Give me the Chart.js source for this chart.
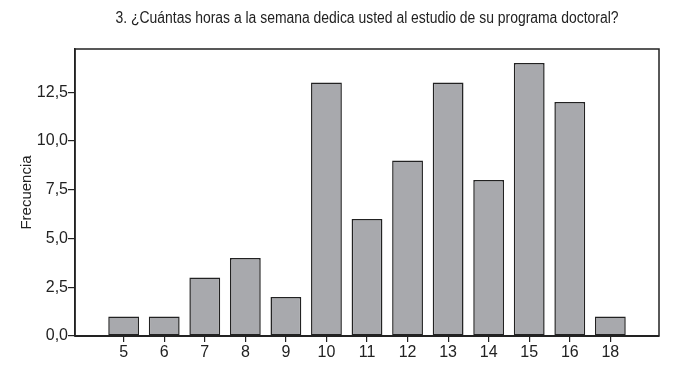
<!DOCTYPE html>
<html>
<head>
<meta charset="utf-8">
<script src="https://cdn.jsdelivr.net/npm/chart.js@4"></script>
<style>
  html, body { margin: 0; padding: 0; background: #fff; }
  #wrap { width: 697px; height: 370px; }
</style>
</head>
<body>
<div id="wrap"><canvas id="myChart"></canvas></div>
<script>
const titleText = '3. ¿Cuántas horas a la semana dedica usted al estudio de su programa doctoral?';
const horas = ['5', '6', '7', '8', '9', '10', '11', '12', '13', '14', '15', '16', '18'];
const frecuencia = [1, 1, 3, 4, 2, 13, 6, 9, 13, 8, 14, 12, 1];
const yTicks = [0, 2.5, 5, 7.5, 10, 12.5];

const FONT = "'Liberation Sans', Arial, sans-serif";

// title (squeezed a bit, the original uses a narrow face) + box around the plot
const frame = {
    id: 'frame',
    afterDraw(chart) {
        const c = chart.ctx;
        const a = chart.chartArea;
        c.save();
        c.strokeStyle = '#222';
        c.lineWidth = 1.5;
        c.strokeRect(a.left, a.top, a.right - a.left, a.bottom - a.top);
        c.lineWidth = 2;
        c.beginPath();
        c.moveTo(a.left, a.bottom);
        c.lineTo(a.right, a.bottom);
        c.stroke();
        c.fillStyle = '#222';
        c.font = '16px ' + FONT;
        c.textAlign = 'center';
        c.textBaseline = 'middle';
        c.translate((a.left + a.right) / 2, 19);
        c.scale(0.87, 1);
        c.fillText(titleText, 0, 0);
        c.restore();
    }
};

const ctx = document.getElementById('myChart').getContext('2d');
const myChart = new Chart(ctx, {
    type: 'bar',
    data: {
        datasets: [{
            label: 'Frecuencia',
            data: frecuencia.map((v, i) => ({x: i, y: v})),
            backgroundColor: '#a8a9ad',
            borderColor: '#222',
            borderWidth: 1.5,
            borderSkipped: false,
            barPercentage: 0.76,
            categoryPercentage: 1
        }]
    },
    options: {
        responsive: true,
        maintainAspectRatio: false,
        animation: false,
        layout: { padding: { top: 49, right: 38, left: 0, bottom: 0 } },
        plugins: {
            legend: { display: false },
            tooltip: { enabled: false }
        },
        scales: {
            x: {
                type: 'linear',
                min: -1.2,
                max: 13.2,
                offset: false,
                afterBuildTicks: s => { s.ticks = horas.map((h, i) => ({value: i})); },
                afterFit: s => { s.height = 34; },
                grid: { display: true, offset: false, drawOnChartArea: false, drawTicks: true, tickLength: 6, color: '#222', lineWidth: 1.2 },
                border: { display: true, color: '#222', width: 1.5 },
                ticks: {
                    color: '#222',
                    font: { family: FONT, size: 16 },
                    padding: 1,
                    maxRotation: 0,
                    autoSkip: false,
                    callback: v => horas[v]
                }
            },
            y: {
                min: 0,
                max: 14.72,
                afterBuildTicks: s => { s.ticks = yTicks.map(v => ({value: v})); },
                afterFit: s => { s.width = 75; },
                grid: { display: true, drawOnChartArea: false, drawTicks: true, tickLength: 7, color: '#222', lineWidth: 1.2 },
                border: { display: true, color: '#222', width: 1.5 },
                title: {
                    display: true,
                    text: 'Frecuencia',
                    color: '#222',
                    font: { family: FONT, size: 15 },
                    padding: { top: 18, bottom: 0 }
                },
                ticks: {
                    color: '#222',
                    font: { family: FONT, size: 16 },
                    padding: 0,
                    callback: v => v.toFixed(1).replace('.', ',')
                }
            }
        }
    },
    plugins: [frame]
});
</script>
</body>
</html>
